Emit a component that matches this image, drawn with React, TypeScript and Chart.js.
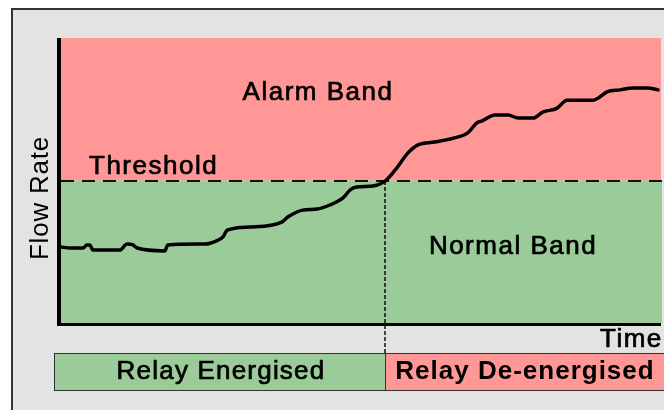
import React, { useEffect, useRef } from "react";
import { Chart, registerables } from "chart.js";

Chart.register(...registerables);

// Flow-rate trace: time (0-100) and flow rate (0-100), threshold at 50
const timeValues = [
  0, 1.5, 3.7, 4.3, 4.8, 5.3, 9.8, 11.0, 12.0, 12.7, 17.3, 17.8, 24.0, 26.2, 27.0, 27.7,
  31.5, 36.8, 37.8, 40.3, 42.7, 44.8, 47.0, 48.2, 49.3, 52.0, 54.0, 55.7, 57.8, 59.5,
  62.3, 66.2, 67.8, 69.3, 70.2, 72.3, 74.5, 76.2, 78.7, 80.3, 82.7, 84.3, 88.7, 89.8,
  91.0, 93.2, 95.3, 97.7, 99.5,
];
const flowValues = [
  26.7, 26.3, 26.3, 27.4, 27.4, 25.6, 25.6, 27.7, 27.4, 26.3, 25.3, 27.4, 27.7, 29.1, 30.2, 32.6,
  33.7, 35.4, 37.2, 39.6, 40.0, 41.4, 43.9, 46.7, 47.7, 48.1, 49.8, 53.7, 59.6, 62.5,
  63.5, 65.3, 66.7, 70.2, 70.9, 73.0, 73.0, 71.9, 71.9, 74.0, 75.4, 78.2, 78.2, 79.3,
  81.1, 81.8, 82.5, 82.5, 81.8,
];
const thresholdValue = 50;
const relaySwitchTime = 54;

const bandLabels = ["Alarm Band", "Threshold", "Normal Band"];
const relayLabels = ["Relay Energised", "Relay De-energised"];
const axisLabels = ["Flow Rate", "Time"];

const RED = "#ff9797";
const GREEN = "#9acb98";
const GRAY = "#e3e3e3";
const FONT = "'Liberation Sans', Arial, sans-serif";

function heavyText(ctx: any, text: string, x: number, y: number) {
  ctx.fillText(text, x, y);
  ctx.strokeText(text, x, y);
}

const decorPlugin = {
  id: "decor",
  beforeDraw(chart: any) {
    const { ctx, chartArea, scales } = chart;
    const y = scales.y;
    const x = scales.x;
    const thrY = y.getPixelForValue(thresholdValue);
    const relayX = x.getPixelForValue(relaySwitchTime);
    ctx.save();
    ctx.fillStyle = "#ffffff";
    ctx.fillRect(0, 0, chart.width, chart.height);
    ctx.fillStyle = GRAY;
    ctx.fillRect(11, 8, chart.width, chart.height);
    ctx.strokeStyle = "#333333";
    ctx.lineWidth = 2;
    ctx.strokeRect(12, 9, chart.width + 10, chart.height + 10);
    ctx.fillStyle = RED;
    ctx.fillRect(chartArea.left, chartArea.top, chartArea.right - chartArea.left, thrY - chartArea.top);
    ctx.fillStyle = GREEN;
    ctx.fillRect(chartArea.left, thrY, chartArea.right - chartArea.left + 1, chartArea.bottom - thrY);
    const barTop = 353;
    const barBottom = 390;
    ctx.fillStyle = GREEN;
    ctx.fillRect(54, barTop, relayX - 54, barBottom - barTop);
    ctx.fillStyle = RED;
    ctx.fillRect(relayX, barTop, chart.width - relayX + 5, barBottom - barTop);
    ctx.strokeStyle = "#333333";
    ctx.lineWidth = 1;
    ctx.strokeRect(54.5, barTop + 0.5, relayX - 54, barBottom - barTop);
    ctx.strokeRect(relayX + 0.5, barTop + 0.5, chart.width, barBottom - barTop);
    ctx.restore();
  },
  beforeDatasetsDraw(chart: any) {
    const { ctx, chartArea, scales } = chart;
    const thrY = Math.round(scales.y.getPixelForValue(thresholdValue));
    const relayX = Math.round(scales.x.getPixelForValue(relaySwitchTime));
    ctx.save();
    ctx.strokeStyle = "#111111";
    ctx.lineWidth = 2;
    ctx.setLineDash([13, 8]);
    ctx.beginPath();
    ctx.moveTo(chartArea.left, thrY);
    ctx.lineTo(chartArea.right + 1, thrY);
    ctx.stroke();
    ctx.lineWidth = 1.5;
    ctx.setLineDash([4, 2]);
    ctx.beginPath();
    ctx.moveTo(relayX, thrY);
    ctx.lineTo(relayX, 353);
    ctx.stroke();
    ctx.setLineDash([]);
    ctx.fillStyle = "#000000";
    ctx.strokeStyle = "#000000";
    ctx.lineWidth = 0.7;
    ctx.font = `26px ${FONT}`;
    (ctx as any).letterSpacing = "1.5px";
    ctx.textBaseline = "alphabetic";
    ctx.textAlign = "center";
    heavyText(ctx, bandLabels[0], 318, 100);
    ctx.textAlign = "left";
    heavyText(ctx, bandLabels[1], 89, 174);
    ctx.textAlign = "center";
    heavyText(ctx, bandLabels[2], 513, 254);
    (ctx as any).letterSpacing = "1.2px";
    heavyText(ctx, relayLabels[0], 221, 379);
    ctx.font = `bold 26px ${FONT}`;
    (ctx as any).letterSpacing = "1px";
    ctx.fillText(relayLabels[1], 525, 379);
    ctx.font = `26px ${FONT}`;
    (ctx as any).letterSpacing = "1.5px";
    ctx.textAlign = "left";
    heavyText(ctx, axisLabels[1], 600, 347);
    (ctx as any).letterSpacing = "0.8px";
    ctx.translate(48, 198);
    ctx.rotate(-Math.PI / 2);
    ctx.textAlign = "center";
    ctx.fillText(axisLabels[0], 0, 0);
    ctx.restore();
  },
  afterDatasetsDraw(chart: any) {
    const { ctx, chartArea } = chart;
    ctx.save();
    ctx.fillStyle = "#000000";
    ctx.fillRect(57, chartArea.top, 4, chartArea.bottom - chartArea.top + 3);
    ctx.fillRect(57, chartArea.bottom, chartArea.right - 57, 3);
    ctx.restore();
  },
};

export default function App() {
  const canvasRef = useRef<HTMLCanvasElement | null>(null);

  useEffect(() => {
    const canvas = canvasRef.current;
    if (!canvas) return;
    const points = timeValues.map((t, i) => ({ x: t, y: flowValues[i] }));
    const chart = new Chart(canvas, {
      type: "line",
      data: {
        datasets: [
          {
            label: "Flow Rate",
            data: points,
            borderColor: "#000000",
            borderWidth: 3.5,
            pointRadius: 0,
            fill: false,
            cubicInterpolationMode: "monotone",
            borderCapStyle: "round",
            borderJoinStyle: "round",
          },
        ],
      },
      options: {
        responsive: false,
        animation: false,
        devicePixelRatio: 1,
        layout: { padding: { left: 61, right: 3, top: 38, bottom: 87 } },
        plugins: {
          legend: { display: false },
          tooltip: { enabled: false },
        },
        scales: {
          x: { type: "linear", min: 0, max: 100, display: false },
          y: { type: "linear", min: 0, max: 100, display: false },
        },
      },
      plugins: [decorPlugin],
    });
    return () => chart.destroy();
  }, []);

  return (
    <div style={{ position: "absolute", left: 0, top: 0, width: 664, height: 410 }}>
      <canvas ref={canvasRef} width={664} height={410} style={{ display: "block" }} />
    </div>
  );
}
